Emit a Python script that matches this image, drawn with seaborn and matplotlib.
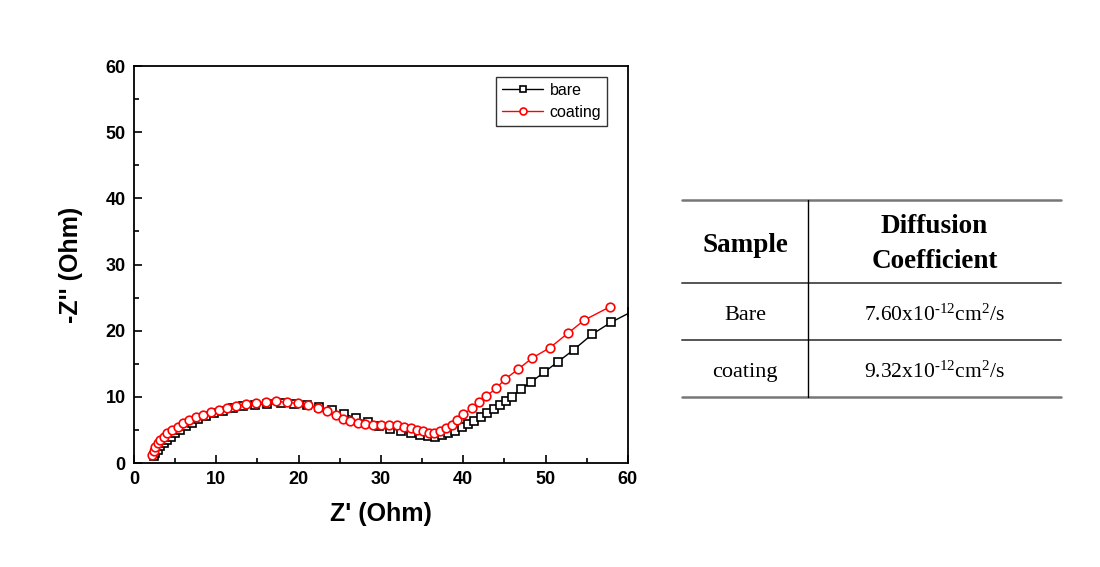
import numpy as np
import pandas as pd
import matplotlib
matplotlib.use("Agg")
import matplotlib.pyplot as plt
import seaborn as sns

# ---- data ----
bare_x = [2.4, 2.6, 2.9, 3.2, 3.6, 4.0, 4.5, 5.0, 5.6, 6.3, 7.0, 7.8, 8.7, 9.7, 10.8, 12.0,
          13.3, 14.7, 16.2, 17.8, 19.4, 21.0, 22.5, 24.0, 25.5, 27.0, 28.4, 29.8, 31.1, 32.4,
          33.6, 34.7, 35.7, 36.6, 37.4, 38.2, 39.0, 39.8, 40.6, 41.3, 42.1, 42.9, 43.7, 44.5,
          45.2, 45.9, 47.0, 48.2, 49.8, 51.5, 53.4, 55.7, 58.0, 60.5]
bare_y = [1.0, 1.5, 2.0, 2.5, 3.0, 3.5, 4.0, 4.5, 5.0, 5.6, 6.1, 6.6, 7.1, 7.5, 7.9, 8.3,
          8.6, 8.8, 8.9, 9.0, 8.9, 8.7, 8.4, 8.0, 7.4, 6.8, 6.2, 5.6, 5.2, 4.9,
          4.6, 4.3, 4.1, 4.0, 4.2, 4.5, 4.9, 5.4, 5.9, 6.4, 6.9, 7.5, 8.2, 8.8,
          9.4, 10.0, 11.2, 12.2, 13.7, 15.3, 17.1, 19.5, 21.3, 22.9]

coat_x = [2.2, 2.4, 2.6, 2.9, 3.2, 3.6, 4.0, 4.6, 5.3, 6.0, 6.7, 7.5, 8.4, 9.3, 10.3, 11.3,
          12.4, 13.6, 14.8, 16.0, 17.3, 18.6, 19.9, 21.2, 22.4, 23.5, 24.5, 25.4, 26.3, 27.2,
          28.1, 29.0, 30.0, 31.0, 31.9, 32.8, 33.6, 34.4, 35.1, 35.8, 36.5, 37.2, 37.9, 38.6,
          39.3, 40.0, 41.1, 41.9, 42.8, 44.0, 45.1, 46.7, 48.4, 50.5, 52.7, 54.7, 57.8]
coat_y = [1.2, 1.8, 2.4, 3.0, 3.5, 4.0, 4.5, 5.0, 5.5, 6.0, 6.5, 6.9, 7.3, 7.7, 8.0, 8.3,
          8.6, 8.9, 9.1, 9.2, 9.3, 9.2, 9.0, 8.7, 8.3, 7.8, 7.2, 6.7, 6.3, 6.0,
          5.9, 5.8, 5.8, 5.8, 5.7, 5.5, 5.3, 5.0, 4.8, 4.6, 4.6, 4.8, 5.3, 5.8,
          6.5, 7.4, 8.3, 9.2, 10.1, 11.3, 12.7, 14.2, 15.9, 17.4, 19.6, 21.6, 23.6]

series_names = ["bare", "coating"]
x_ticks = [0, 10, 20, 30, 40, 50, 60]
y_ticks = [0, 10, 20, 30, 40, 50, 60]

table_header = ["Sample", "Diffusion\nCoefficient"]
table_samples = ["Bare", "coating"]
table_values = ["7.60x10$\\mathregular{^{\u201012}}$cm$\\mathregular{^{2}}$/s",
                "9.32x10$\\mathregular{^{\u201012}}$cm$\\mathregular{^{2}}$/s"]

df = pd.concat([
    pd.DataFrame({"Z1": bare_x, "Z2": bare_y, "s": series_names[0]}),
    pd.DataFrame({"Z1": coat_x, "Z2": coat_y, "s": series_names[1]}),
])

sns.set_style("ticks")
plt.rcParams["font.family"] = ["Liberation Sans", "DejaVu Sans"]
plt.rcParams["text.color"] = "black"
plt.rcParams["axes.labelcolor"] = "black"
plt.rcParams["xtick.color"] = "black"
plt.rcParams["ytick.color"] = "black"
plt.rcParams["mathtext.fontset"] = "custom"
plt.rcParams["mathtext.rm"] = "Liberation Serif"

fig = plt.figure(figsize=(11, 5.67), dpi=100)
ax = fig.add_axes([0.1218, 0.1834, 0.449, 0.700])

styles = {
    "bare": dict(color="black", marker="s", ms=5.5),
    "coating": dict(color="red", marker="o", ms=6.2),
}
for name in series_names:
    st = styles[name]
    sns.lineplot(data=df[df["s"] == name], x="Z1", y="Z2", sort=False, ax=ax,
                 color=st["color"], marker=st["marker"], markersize=st["ms"],
                 markerfacecolor="white", markeredgecolor=st["color"], markeredgewidth=1.2,
                 linewidth=1.0, label=name)

ax.set_xlim(0, 60)
ax.set_ylim(0, 60)
ax.set_xticks(x_ticks)
ax.set_yticks(y_ticks)
ax.set_xticks([5, 15, 25, 35, 45, 55], minor=True)
ax.set_yticks([5, 15, 25, 35, 45, 55], minor=True)
ax.tick_params(which="major", direction="in", length=6, width=1.2, labelsize=13, pad=6)
ax.tick_params(which="minor", direction="in", length=3.5, width=1.2)
for lab in ax.get_xticklabels() + ax.get_yticklabels():
    lab.set_fontweight("bold")
for sp in ax.spines.values():
    sp.set_linewidth(1.3)
    sp.set_color("black")

ax.set_xlabel("Z' (Ohm)", fontsize=18, fontweight="bold", labelpad=10)
ax.set_ylabel("-Z'' (Ohm)", fontsize=18, fontweight="bold", labelpad=16)

leg = ax.legend(loc="upper right", bbox_to_anchor=(0.9575, 0.972), fontsize=11.5,
                frameon=True, fancybox=False, handlelength=2.6, borderpad=0.35,
                labelspacing=0.45, handletextpad=0.4, borderaxespad=0.0)
leg.get_frame().set_edgecolor("black")
leg.get_frame().set_linewidth(1.0)
for h in leg.legend_handles:
    h.set_markersize(5)

# ---- table overlay ----
tab = fig.add_axes([0, 0, 1, 1], facecolor="none")
tab.set_xlim(0, 1100)
tab.set_ylim(567, 0)
tab.axis("off")
x0, x1, xd = 682, 1061, 808
rows_y = [200, 283, 340, 397]
for i, yy in enumerate(rows_y):
    outer = i in (0, len(rows_y) - 1)
    tab.plot([x0, x1], [yy, yy], color="#777777" if outer else "#555555",
             lw=1.8 if outer else 1.4)
tab.plot([xd, xd], [rows_y[0], rows_y[-1]], color="black", lw=1.0)

serif = ["Liberation Serif", "DejaVu Serif"]
tab.text((x0 + xd) / 2, 245, table_header[0], ha="center", va="center",
         fontsize=19.5, fontweight="bold", family=serif)
tab.text((xd + x1) / 2, 244, table_header[1], ha="center", va="center",
         fontsize=19.5, fontweight="bold", family=serif, linespacing=1.5)
for i in range(2):
    yc = (rows_y[i + 1] + rows_y[i + 2]) / 2 + 4
    tab.text((x0 + xd) / 2, yc, table_samples[i], ha="center", va="center",
             fontsize=16, family=serif)
    tab.text((xd + x1) / 2, yc, table_values[i], ha="center", va="center",
             fontsize=15.5, family=serif)

fig.savefig("out.png", dpi=100)
